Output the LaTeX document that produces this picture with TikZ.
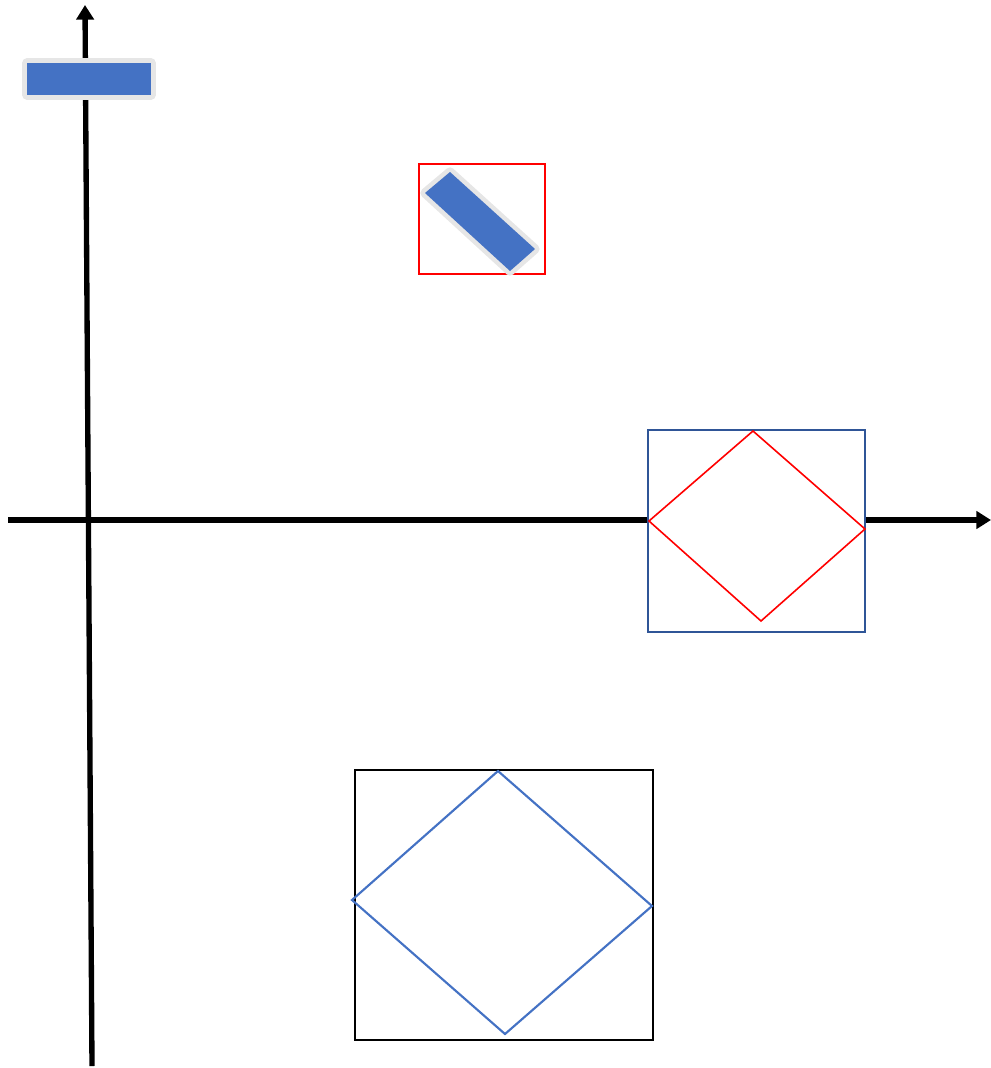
\documentclass[tikz,border=0pt]{standalone}
\usetikzlibrary{arrows.meta}
\definecolor{fillblue}{HTML}{4472C4}
\definecolor{boxblue}{HTML}{2F5597}
\definecolor{halo}{HTML}{E6E6E6}
\tikzset{
  axis/.style={line width=4pt, -{Triangle[length=11pt,width=13pt]}},
  halostroke/.style={draw=halo, line width=7pt, line join=round},
  bluefill/.style={fill=fillblue},
  redline/.style={draw=red, line width=1.2pt},
  blueline/.style={draw=fillblue, line width=1.6pt},
  darkbox/.style={draw=boxblue, fill=white, line width=1.2pt},
  blackbox/.style={draw=black, line width=1.2pt}
}
\begin{document}
\begin{tikzpicture}[x=0.75pt,y=-0.75pt]
\useasboundingbox (0,0) rectangle (991,1068);
% axes
\coordinate (yb) at (92,1066);
\coordinate (yt) at (85,5);
\coordinate (xl) at (8,520);
\coordinate (xr) at (991,520);
\draw[axis] (yb) -- (yt);
\draw[axis] (xl) -- (xr);
% top-left bar
\path[halostroke] (27,63) rectangle (151,95);
\path[bluefill] (27,63) rectangle (151,95);
% rotated bar in red box
\draw[redline] (419,164) rectangle (545,274);
\path[halostroke] (450,172) -- (425,193) -- (510,271) -- (535,249) -- cycle;
\path[bluefill] (450,172) -- (425,193) -- (510,271) -- (535,249) -- cycle;
% right box with red diamond
\draw[darkbox] (648,430) rectangle (865,632);
\draw[redline] (649,521) -- (753,431) -- (865,529) -- (761,621) -- cycle;
% bottom box with blue diamond
\draw[blackbox] (355,770) rectangle (653,1040);
\draw[blueline] (498,771) -- (352,900) -- (505,1034) -- (652,906) -- cycle;
\end{tikzpicture}
\end{document}
